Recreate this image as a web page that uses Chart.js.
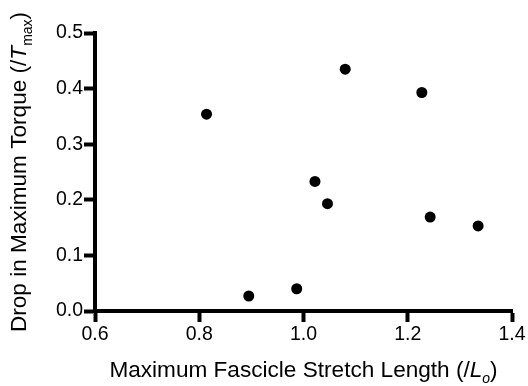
<!DOCTYPE html>
<html>
<head>
<meta charset="utf-8">
<script src="https://cdn.jsdelivr.net/npm/chart.js@4"></script>
<style>
  body { margin: 0; background: #fff; }
  #wrap { width: 528px; height: 386px; }
</style>
</head>
<body>
<div id="wrap"><canvas id="scatter" width="528" height="386"></canvas></div>
<script>
// values
var fascicleStretch = [0.814, 0.895, 0.987, 1.022, 1.046, 1.080, 1.227, 1.243, 1.335];
var torqueDrop = [0.354, 0.027, 0.040, 0.233, 0.193, 0.435, 0.393, 0.169, 0.153];
var xTicks = [0.6, 0.8, 1.0, 1.2, 1.4];
var yTicks = [0.0, 0.1, 0.2, 0.3, 0.4, 0.5];

// axis titles, split so italics and subscripts can be drawn
var xTitle = [
    { t: 'Maximum Fascicle Stretch Length (/' },
    { t: 'L', italic: true },
    { t: 'o', italic: true, sub: true },
    { t: ')' }
];
var yTitle = [
    { t: 'Drop in Maximum Torque (/' },
    { t: 'T', italic: true },
    { t: 'max', sub: true },
    { t: ')' }
];

var FONT = "'Liberation Sans', Arial, sans-serif";

function partFont(p, size) {
    var s = p.sub ? size * 0.62 : size;
    return (p.italic ? 'italic ' : '') + s + 'px ' + FONT;
}

function drawParts(ctx, parts, size) {
    var total = 0;
    parts.forEach(function (p) {
        ctx.font = partFont(p, size);
        p.w = ctx.measureText(p.t).width;
        total += p.w;
    });
    var x = -total / 2;
    parts.forEach(function (p) {
        ctx.font = partFont(p, size);
        ctx.fillText(p.t, x, p.sub ? size * 0.28 : 0);
        x += p.w;
    });
}

var axisTitles = {
    id: 'axisTitles',
    afterDraw: function (chart) {
        var ctx = chart.ctx, a = chart.chartArea;
        ctx.save();
        ctx.fillStyle = '#000';
        ctx.textBaseline = 'alphabetic';
        ctx.textAlign = 'left';
        // x title
        ctx.save();
        ctx.translate((a.left + a.right) / 2, 377);
        drawParts(ctx, xTitle, 22.6);
        ctx.restore();
        // y title
        ctx.save();
        ctx.translate(26, (a.top + a.bottom) / 2);
        ctx.rotate(-Math.PI / 2);
        drawParts(ctx, yTitle, 22.6);
        ctx.restore();
        ctx.restore();
    }
};

function fmt(v) { return Number(v).toFixed(1); }

var points = fascicleStretch.map(function (x, i) { return { x: x, y: torqueDrop[i] }; });

new Chart(document.getElementById('scatter').getContext('2d'), {
    type: 'scatter',
    data: {
        datasets: [{
            data: points,
            backgroundColor: '#000',
            borderWidth: 0,
            pointRadius: 5.5,
            pointHoverRadius: 5.5
        }]
    },
    options: {
        responsive: false,
        animation: false,
        layout: { padding: { top: 33, right: 16, left: 0, bottom: 0 } },
        plugins: { legend: { display: false }, tooltip: { enabled: false } },
        scales: {
            x: {
                type: 'linear',
                min: xTicks[0],
                max: xTicks[xTicks.length - 1],
                afterFit: function (s) { s.height = 75; },
                afterBuildTicks: function (s) { s.ticks = xTicks.map(function (v) { return { value: v }; }); },
                grid: { display: true, drawOnChartArea: false, drawTicks: true, tickLength: 11, tickWidth: 4, tickColor: '#000' },
                border: { display: true, width: 4, color: '#000' },
                ticks: { color: '#000', padding: 1, font: { family: FONT, size: 19.5 }, callback: fmt, maxRotation: 0 }
            },
            y: {
                type: 'linear',
                min: yTicks[0],
                max: yTicks[yTicks.length - 1],
                afterFit: function (s) { s.width = 95; },
                afterBuildTicks: function (s) { s.ticks = yTicks.map(function (v) { return { value: v }; }); },
                grid: { display: true, drawOnChartArea: false, drawTicks: true, tickLength: 11, tickWidth: 4, tickColor: '#000' },
                border: { display: true, width: 4, color: '#000' },
                ticks: { color: '#000', padding: 1, font: { family: FONT, size: 19.5 }, callback: fmt }
            }
        }
    },
    plugins: [axisTitles]
});
</script>
</body>
</html>
